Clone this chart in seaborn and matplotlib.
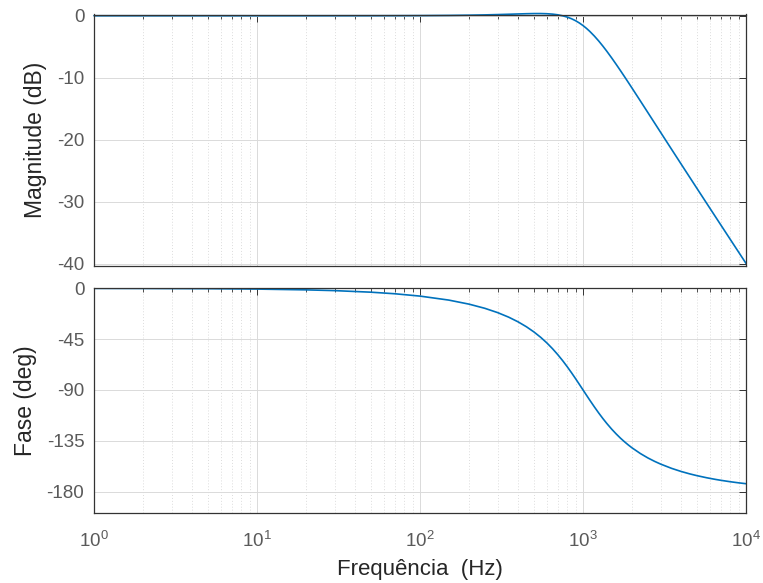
import numpy as np
import pandas as pd
import matplotlib
matplotlib.use("Agg")
import matplotlib.pyplot as plt
import seaborn as sns
from matplotlib.ticker import LogLocator, NullFormatter, FixedLocator

# ---- data ----
freq_hz = [1, 2, 5, 10, 20, 30, 50, 70, 100, 150,
           200, 250, 300, 350, 400, 450, 500, 550, 600, 650,
           700, 750, 800, 850, 900, 950, 1000, 1050, 1100, 1175,
           1250, 1325, 1400, 1500, 1600, 1700, 1800, 1900, 2000, 2250,
           2500, 2750, 3000, 3500, 4000, 4500, 5000, 5750, 6500, 7000,
           8000, 9000, 10000]
magnitude_db = [0.0, 0.0, 0.0, 0.0, 0.0, 0.002, 0.006, 0.012, 0.024, 0.053,
                0.091, 0.137, 0.188, 0.239, 0.287, 0.326, 0.350, 0.352, 0.325, 0.260,
                0.152, -0.006, -0.217, -0.482, -0.801, -1.170, -1.584, -2.036, -2.520, -3.290,
                -4.093, -4.913, -5.733, -6.815, -7.868, -8.884, -9.860, -10.796, -11.691, -13.765,
                -15.630, -17.320, -18.863, -21.590, -23.945, -26.017, -27.868, -30.316, -32.461, -33.756,
                -36.087, -38.140, -39.976]
phase_deg = [-0.07, -0.14, -0.34, -0.69, -1.38, -2.06, -3.44, -4.83, -6.91, -10.43,
             -14.04, -17.74, -21.58, -25.57, -29.74, -34.10, -38.66, -43.42, -48.37, -53.49,
             -58.75, -64.07, -69.44, -74.78, -80.02, -85.11, -90.0, -94.65, -99.04, -105.10,
             -110.56, -115.42, -119.74, -124.78, -129.09, -132.82, -136.04, -138.86, -141.34, -146.39,
             -150.26, -153.30, -155.77, -159.53, -162.26, -164.33, -165.96, -167.85, -169.29, -170.07,
             -171.34, -172.31, -173.09]
mag_ticks = [-40, -30, -20, -10, 0]
phase_ticks = [-180, -135, -90, -45, 0]

df = pd.DataFrame({"f": freq_hz, "mag": magnitude_db, "ph": phase_deg})

sns.set_theme(style="white")
plt.rcParams['font.family'] = ['Liberation Sans', 'DejaVu Sans']
plt.rcParams['axes.unicode_minus'] = False
plt.rcParams['mathtext.fontset'] = 'custom'
plt.rcParams['mathtext.rm'] = 'Liberation Sans'
plt.rcParams['mathtext.it'] = 'Liberation Sans'
plt.rcParams['mathtext.default'] = 'regular'

W, H = 763, 583
fig = plt.figure(figsize=(W / 100, H / 100), dpi=100)
left = 94 / W
width = (746 - 94) / W
ax1 = fig.add_axes([left, 1 - 266 / H, width, (266 - 14.5) / H])
ax2 = fig.add_axes([left, 1 - 512.5 / H, width, (512.5 - 288.3) / H])

line_color = "#0072BD"
tick_col = "#5a5a5a"
spine_col = "#333333"
label_col = "#262626"

sns.lineplot(data=df, x="f", y="mag", ax=ax1, color=line_color, linewidth=1.2,
             estimator=None, sort=False, clip_on=False)
sns.lineplot(data=df, x="f", y="ph", ax=ax2, color=line_color, linewidth=1.2,
             estimator=None, sort=False)

for ax in (ax1, ax2):
    ax.set_xscale("log")
    ax.set_xlim(1, 1e4)
    ax.xaxis.set_major_locator(LogLocator(base=10, numticks=10))
    ax.xaxis.set_minor_locator(LogLocator(base=10, subs=np.arange(2, 10), numticks=100))
    ax.xaxis.set_minor_formatter(NullFormatter())
    ax.grid(True, which="major", color="#dadada", linewidth=0.7, linestyle="-")
    ax.grid(True, which="minor", axis="x", color="#dcdcdc", linewidth=0.7, linestyle=(0, (1, 2)))
    ax.tick_params(axis="both", which="major", direction="in", length=5, width=0.7,
                   top=True, right=True, colors=spine_col, labelcolor=tick_col,
                   labelsize=13.5)
    ax.tick_params(axis="both", which="minor", direction="in", length=3, width=0.6,
                   top=True, right=True, colors=spine_col)
    ax.tick_params(axis="y", pad=7)
    ax.tick_params(axis="x", pad=13)
    for s in ax.spines.values():
        s.set_color(spine_col)
        s.set_linewidth(0.9)
        s.set_visible(True)
    ax.set_axisbelow(True)

ax1.set_ylim(-40.4, 0.2)
ax1.yaxis.set_major_locator(FixedLocator(mag_ticks))
ax1.tick_params(axis="x", which="both", labelbottom=False)
ax1.set_xlabel("")
ax1.set_ylabel("Magnitude (dB)", fontsize=16.5, color=label_col, labelpad=7)

ax2.set_ylim(-198.6, 0)
ax2.yaxis.set_major_locator(FixedLocator(phase_ticks))
ax2.set_ylabel("Fase (deg)", fontsize=16.5, color=label_col, labelpad=7)
ax2.set_xlabel("Frequência  (Hz)", fontsize=16, color=label_col, labelpad=6)

fig.savefig("out.png", dpi=100)
